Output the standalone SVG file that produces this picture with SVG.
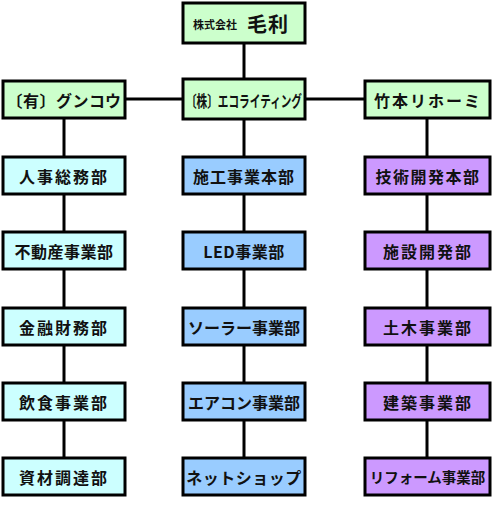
<svg xmlns="http://www.w3.org/2000/svg" width="493" height="520" viewBox="0 0 493 520">
<style>
rect{stroke:#000;stroke-width:3}
.g{fill:#ccffcc}.c{fill:#ccffff}.b{fill:#99ccff}.p{fill:#cc99ff}
text{font-family:"Noto Sans CJK JP","Noto Sans CJK SC",sans-serif;font-weight:bold;fill:#111;text-anchor:middle;dominant-baseline:central}
.d{font-size:16px;letter-spacing:2px}
.co{font-size:16px;letter-spacing:0.5px}
#connectors line{stroke:#000;stroke-width:3}
</style>
<rect width="493" height="520" fill="#fff" style="stroke:none"/>
<g id="connectors">
<line x1="244" y1="44" x2="244" y2="78"/>
<line x1="126" y1="99" x2="183" y2="99"/>
<line x1="306" y1="99" x2="364" y2="99"/>
<line x1="64" y1="119" x2="64" y2="496"/>
<line x1="244" y1="120" x2="244" y2="496"/>
<line x1="427" y1="119" x2="427" y2="496"/>
</g>
<g id="mouri"><rect class="g" x="183" y="3" width="122" height="40"/>
<text x="215" y="24" style="font-size:11px">株式会社</text>
<text x="268" y="23" style="font-size:20px;letter-spacing:1px">毛利</text></g>
<g id="gunkou"><rect class="g" x="3" y="81" width="122" height="37"/><text class="co" x="64" y="99.5">〔有〕グンコウ</text></g>
<g id="eco"><rect class="g" x="183" y="79" width="122" height="40"/><text x="244" y="99.5" style="font-size:16px" textLength="116" lengthAdjust="spacingAndGlyphs">〔株〕エコライティング</text></g>
<g id="takemoto"><rect class="g" x="365" y="81" width="125" height="37"/><text class="co" x="428" y="99.5" style="letter-spacing:2px">竹本リホーミ</text></g>

<g id="jinji"><rect class="c" x="3" y="157" width="122" height="37"/><text class="d" x="64" y="175.5">人事総務部</text></g>
<g id="fudousan"><rect class="c" x="3" y="232" width="122" height="37"/><text class="d" x="64" y="250.5" style="letter-spacing:0.5px">不動産事業部</text></g>
<g id="kinyu"><rect class="c" x="3" y="308" width="122" height="37"/><text class="d" x="64" y="326.5">金融財務部</text></g>
<g id="inshoku"><rect class="c" x="3" y="383" width="122" height="37"/><text class="d" x="64" y="401.5">飲食事業部</text></g>
<g id="shizai"><rect class="c" x="3" y="458" width="122" height="37"/><text class="d" x="64" y="476.5">資材調達部</text></g>

<g id="sekou"><rect class="b" x="183" y="157" width="122" height="37"/><text class="d" x="244" y="175.5" style="letter-spacing:1px">施工事業本部</text></g>
<g id="led"><rect class="b" x="183" y="232" width="122" height="37"/><text class="d" x="244" y="250.5" style="letter-spacing:0.5px">LED事業部</text></g>
<g id="solar"><rect class="b" x="183" y="308" width="122" height="37"/><text class="d" x="244" y="326.5" style="letter-spacing:0px">ソーラー事業部</text></g>
<g id="aircon"><rect class="b" x="183" y="383" width="122" height="37"/><text class="d" x="244" y="401.5" style="letter-spacing:0px">エアコン事業部</text></g>
<g id="netshop"><rect class="b" x="183" y="458" width="122" height="37"/><text class="d" x="244" y="476.5" style="letter-spacing:0.5px">ネットショップ</text></g>

<g id="gijutsu"><rect class="p" x="365" y="157" width="125" height="37"/><text class="d" x="428" y="175.5" style="letter-spacing:1.5px">技術開発本部</text></g>
<g id="shisetsu"><rect class="p" x="365" y="232" width="125" height="37"/><text class="d" x="428" y="250.5">施設開発部</text></g>
<g id="doboku"><rect class="p" x="365" y="308" width="125" height="37"/><text class="d" x="428" y="326.5">土木事業部</text></g>
<g id="kenchiku"><rect class="p" x="365" y="383" width="125" height="37"/><text class="d" x="428" y="401.5">建築事業部</text></g>
<g id="reform"><rect class="p" x="365" y="458" width="125" height="37"/><text x="427.5" y="476.5" style="font-size:14.5px">リフォーム事業部</text></g>
</svg>
